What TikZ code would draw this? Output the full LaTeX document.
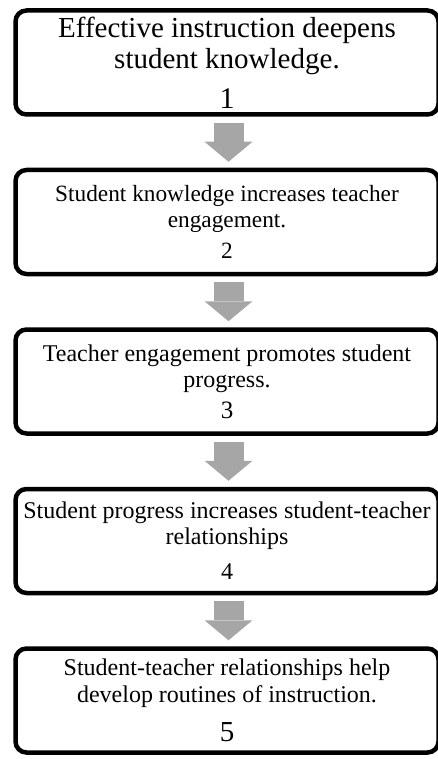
\documentclass[tikz,border=0pt]{standalone}
\usepackage{fontspec}
\setmainfont{Liberation Serif}
\usetikzlibrary{positioning,arrows.meta}
\definecolor{arrowgray}{RGB}{166,166,166}
\newcommand{\stepnum}[2]{{\fontsize{#1}{#1}\selectfont #2}}

\begin{document}
\begin{tikzpicture}[node distance=51pt,
    stepbox/.style={draw,line width=4.5pt,rounded corners=11pt,minimum width=423pt,minimum height=104pt,align=center,inner sep=0pt},
    bigtext/.style={font=\fontsize{29}{31}\selectfont},
    smalltext/.style={font=\fontsize{#1}{26}\selectfont},
    smalltext/.default=24,
    flow/.style={draw=arrowgray,line width=30pt,-{Triangle[length=20pt,width=48pt,line width=0pt]},shorten <=6pt,shorten >=6pt}]
    \useasboundingbox (0,0) rectangle (438pt,-759pt);
    \node[stepbox,bigtext] (s1) at (227pt,-62.5pt) {Effective instruction deepens\\student knowledge.\\[9pt]\stepnum{30}{1}};
    \node[stepbox,smalltext=23.3,below=of s1] (s2) {Student knowledge increases teacher\\engagement.\\[5pt]2};
    \node[stepbox,smalltext,below=of s2] (s3) {Teacher engagement promotes student\\progress.\\[5pt]\stepnum{25}{3}};
    \node[stepbox,smalltext,below=of s3] (s4) {Student progress increases student-teacher\\relationships\\[9pt]4};
    \node[stepbox,smalltext,below=of s4] (s5) {Student-teacher relationships help\\[1pt]develop routines of instruction.\\[13pt]\stepnum{29}{5}};
    \foreach \a/\b in {s1/s2,s2/s3,s3/s4,s4/s5}
        \draw[flow] ([xshift=1.5pt]\a.south) -- ([xshift=1.5pt]\b.north);
\end{tikzpicture}
\end{document}
